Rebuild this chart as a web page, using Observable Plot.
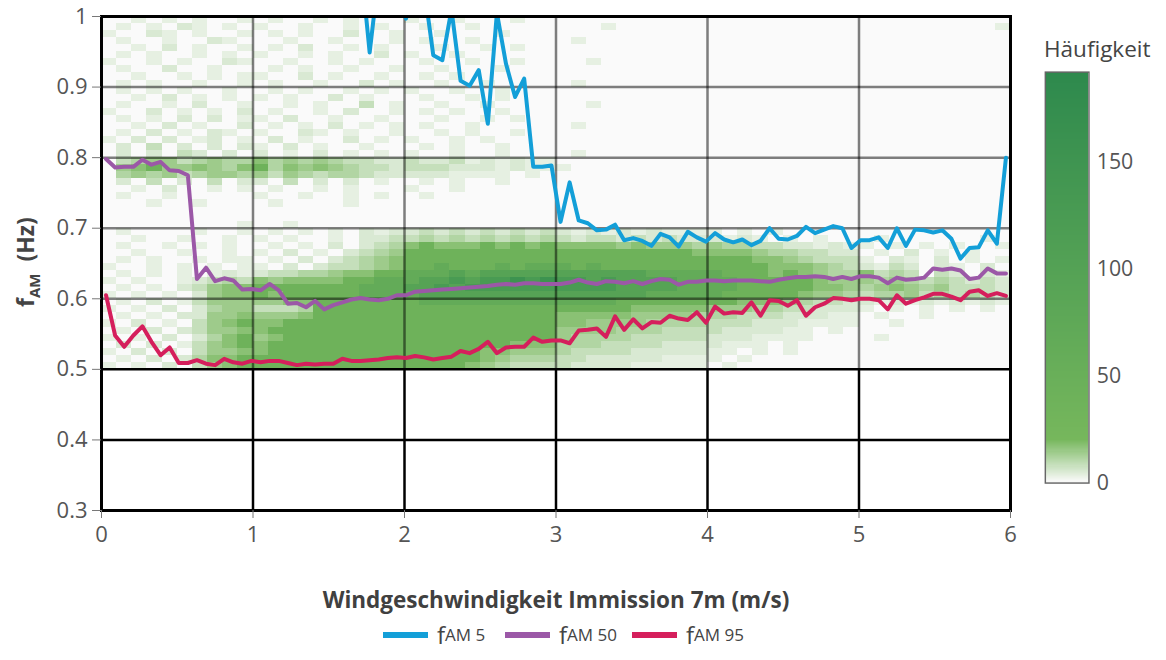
<!DOCTYPE html>
<html><head><meta charset="utf-8">
<script src="https://cdn.jsdelivr.net/npm/d3@7"></script>
<script src="https://cdn.jsdelivr.net/npm/@observablehq/plot@0.6"></script>
<style>
body{margin:0;background:#fff;font-family:"Open Sans",sans-serif;}
#wrap{position:relative;width:1166px;height:660px;overflow:hidden;background:#fff;}
#main{position:absolute;left:0;top:0;}
#cbar{position:absolute;left:1040px;top:60px;}
.ylab{position:absolute;left:26px;top:262px;transform:translate(-50%,-50%) rotate(-90deg);font-weight:700;font-size:23px;color:#444;white-space:nowrap;}
.ylab sub{font-size:15px;vertical-align:-6px;}
.leg sub{font-size:17px;vertical-align:-7px;}
.xlab{position:absolute;left:0;width:1112px;top:584px;text-align:center;font-weight:700;font-size:22.5px;color:#404040;}
.cbtitle{position:absolute;left:1044px;top:33px;font-size:22.5px;color:#444;}
.leg{position:absolute;top:618px;display:flex;align-items:center;font-size:24px;color:#444;white-space:nowrap;}
.leg .sw{width:45px;height:6px;margin-right:9px;}
</style>
</head><body>
<div id="wrap">
  <div id="main"></div>
  <div id="cbar"></div>
  <div class="ylab">f<sub>AM</sub>&nbsp; (Hz)</div>
  <div class="xlab">Windgeschwindigkeit Immission 7m (m/s)</div>
  <div class="cbtitle">Häufigkeit</div>
</div>
<script>
// ---------- data ----------
const xTicks = [0, 1, 2, 3, 4, 5, 6];
const yTicks = [0.3, 0.4, 0.5, 0.6, 0.7, 0.8, 0.9, 1.0];
const colorbarTicks = [0, 50, 100, 150];

// wind speed bins for the percentile lines (bin centres)
const windSpeed = d3.range(100).map(k => +(0.03 + 0.06 * k).toFixed(2));

const fAM5 = [
  null,null,null,null,null,null,null,null,null,null,
  null,null,null,null,null,null,null,null,null,null,
  null,null,null,null,null,null,null,null,1.08,0.949,
  1.06,1.10,1.04,0.997,1.05,1.04,0.945,0.938,1.01,0.909,
  0.902,0.924,0.848,1.005,0.933,0.886,0.912,0.787,0.787,0.789,
  0.709,0.765,0.711,0.707,0.697,0.698,0.705,0.683,0.686,0.682,
  0.675,0.692,0.687,0.674,0.695,0.687,0.681,0.693,0.684,0.680,
  0.684,0.676,0.682,0.700,0.685,0.684,0.689,0.702,0.693,0.698,
  0.703,0.700,0.672,0.683,0.683,0.687,0.672,0.700,0.675,0.698,
  0.697,0.694,0.697,0.685,0.657,0.672,0.673,0.697,0.678,0.800
];
const fAM50 = [
  0.798,0.786,0.787,0.787,0.797,0.790,0.794,0.782,0.781,0.775,
  0.628,0.644,0.625,0.629,0.626,0.613,0.614,0.612,0.621,0.612,
  0.593,0.594,0.588,0.597,0.585,0.591,0.595,0.599,0.601,0.599,
  0.598,0.600,0.605,0.605,0.610,0.611,0.612,0.613,0.614,0.615,
  0.616,0.617,0.618,0.620,0.621,0.620,0.622,0.622,0.621,0.621,
  0.621,0.623,0.627,0.623,0.621,0.625,0.624,0.622,0.625,0.621,
  0.625,0.628,0.627,0.620,0.624,0.624,0.626,0.626,0.625,0.626,
  0.626,0.626,0.625,0.624,0.627,0.629,0.631,0.631,0.632,0.631,
  0.628,0.631,0.628,0.632,0.632,0.630,0.622,0.630,0.627,0.628,
  0.630,0.643,0.641,0.643,0.640,0.628,0.630,0.643,0.636,0.636
];
const fAM95 = [
  0.605,0.548,0.532,0.548,0.561,0.539,0.520,0.531,0.509,0.509,
  0.513,0.508,0.506,0.515,0.510,0.508,0.512,0.510,0.512,0.512,
  0.509,0.506,0.508,0.507,0.508,0.508,0.515,0.512,0.512,0.513,
  0.514,0.516,0.517,0.516,0.519,0.517,0.514,0.516,0.518,0.526,
  0.523,0.529,0.539,0.523,0.531,0.532,0.532,0.545,0.539,0.541,
  0.541,0.537,0.555,0.556,0.558,0.546,0.575,0.556,0.571,0.558,
  0.567,0.566,0.576,0.572,0.570,0.581,0.566,0.589,0.579,0.581,
  0.580,0.595,0.576,0.598,0.597,0.590,0.598,0.576,0.588,0.593,
  0.601,0.600,0.598,0.600,0.600,0.598,0.585,0.605,0.593,0.598,
  0.602,0.607,0.607,0.603,0.598,0.610,0.612,0.604,0.608,0.604
];

// heatmap: 60 wind bins (0.1 m/s) x 50 f_AM bins (0.01 Hz), top row = 0.99–1.00 Hz
const heatXStart = 0, heatXBin = 0.1, heatYTop = 1.0, heatYBin = 0.01;
const levelCodes  = ".123456789abc";
const levelCounts = [0, 3, 5, 8, 11, 14, 17, 40, 65, 95, 125, 155, 180];
const heatRows = [
  "..1.1.1..1 .1..1.1... 1..1...1.. .......... .......... ..........",
  ".1.1.21.1. 1..1..1.1. .1..1..... ...1...... .......... .........1",
  "1..21.1..1 .1.1..2..1 ..1...1... .......... .......... ..........",
  ".1..1..21. ..1..1...1 .1..1..... .1........ .......... ..........",
  "..1.2.1..1 .1.2..1.1. ..1..1.1.. .......... .......... ..........",
  ".1.1..1.1. 1..1.1..2. 1..1...... .......... .......... ..........",
  "1..1.1..21 ..1..1.1.. .1..1..1.. ..1....... .......... ..........",
  ".1..2..1.. .1.1..1..1 ..1...1... .......... .......... ..........",
  "..1..1.1.1 1..2.1..1. .1.1...... .......... .......... ..........",
  ".1.1..1..1 .1..1..2.1 ..1..1.... .1........ .......... ..........",
  ".1.1.1..1. .1.1..1.1. 1..1..1... .......... .......... ..........",
  "..1.2.1.1. 1.1..2.1.. .1..1.1... .......... .......... ..........",
  ".1..1.2..1 ..1.1..3.1 ..1..1.... ..1....... .......... ..........",
  "1..2.1.1.2 .1..1.2..1 .1.1..1... .......... .......... ..........",
  ".1.1.2.2.1 1.2..1..1. ..1..1.1.. .......... .......... ..........",
  "..1.2.1..2 .1.1.2.1.1 .1..1..... .1........ .......... ..........",
  ".1.2.1.21. 1..21.1..1 ..1.1..1.. .......... .......... ..........",
  "1.2.2.12.1 .2.1..2.1. 1..1.1.... .......... .......... ..........",
  ".2.3.2.2.2 1.2.1..1.. .1.1..1... .......... .......... ..........",
  ".2.2.32.2. 2.1.2.1.1. 1..1..1... .1........ .......... ..........",
  ".345534544 6454543322 3223121211 .......... .......... ..........",
  ".567556546 7465654332 3332221211 1......... .......... ..........",
  ".454534554 5354344322 2221111.1. .......... .......... ..........",
  ".2.3.2.3.2 2.3.2.2.1. .1.1..1... .......... .......... ..........",
  "..1.2..1.1 .1..1.1... 1..1...... .......... .......... ..........",
  ".1..1..... 1..1..1.1. .1........ .......... .......... ..........",
  "...1..1... .1....1... .......... .......... .......... ..........",
  ".......... .......... .......... .......... .......... ..........",
  ".......... .......... .......... .......... .......... ..........",
  ".........1 ..1....... .......... .......... .......... ..........",
  ".1....1..1 .1.1.1.212 2323232323 2121212111 1.1.1..... ..........",
  "..1..1..1. 1.1..1.223 3434343434 3233232322 2121.1.1.. .1......1.",
  ".1..1.1.1. .1.1.2.234 6766676767 6666565554 5443322121 1.1.1.1..1",
  "..1..1..1. 1.2.1.2345 7777777777 7777777776 6665443322 .1.2.1.1..",
  ".1.1..1.11 .1.2.23456 7777777777 7777777777 7776654333 1.21.2.1.1",
  "1..1.1.1.1 1.2.233456 7787778788 8787777777 7777666543 2132.21.2.",
  ".1.1.1.121 2334456677 8889899999 9999998888 8777676544 6343.32.21",
  "1.1..12343 6566667788 899a9aabab aa9a999988 8877777655 5454343232",
  ".1.1.23566 7777777888 99a9aaaaaa aaaa999988 8877777665 4565453332",
  "1.1.1.2566 7677777888 8999999999 9999998888 8777776554 3445343432",
  ".1.2.13555 5566777777 7888888888 8888777777 7766654332 2121212121",
  "1.1.2.2455 3334777777 7777777777 7777766666 5554433222 1.1.1.1.1.",
  ".1.1.22556 5556777777 7777777777 6666655554 4433322211 .1..1.....",
  "1.2.1.3567 6677777777 7777777777 6655554444 3332221111 ..1.......",
  ".1.2.23556 6777777777 7777777777 5555444333 3222211.1. ..........",
  "1.1.2.2467 5677777777 7777777777 5444433333 2221111... .1........",
  ".2.2.13567 6777777777 7777777666 4443333222 2111.1.... ..........",
  "1.2.2.3556 6777777777 7777766555 4333322222 11.1.1.... ..........",
  ".1.2.24667 7777777777 7777765444 3322222111 1.1....... ..........",
  "1.1.2.3567 7777777777 7777654333 3222211111 .1........ .........."
];

const seriesNames  = ["AM 5", "AM 50", "AM 95"];
const seriesColors = ["#139fd8", "#9b58a7", "#d51f5c"];

// ---------- build tables ----------
const heatCells = [];
heatRows.forEach((row, r) => {
  const s = row.replace(/ /g, "");
  for (let c = 0; c < s.length; c++) {
    heatCells.push({
      x1: heatXStart + c * heatXBin, x2: heatXStart + (c + 1) * heatXBin,
      y1: heatYTop - (r + 1) * heatYBin, y2: heatYTop - r * heatYBin,
      count: levelCounts[levelCodes.indexOf(s[c])]
    });
  }
});
const series = [fAM5, fAM50, fAM95].map(vals => windSpeed.map((x, i) => ({x, y: vals[i]})));

const colorScale = {type: "linear", domain: [0, 20, 192], range: ["#fafafa", "#76b75c", "#2d894d"]};
const fontStyle = {fontFamily: "Open Sans, sans-serif", fontSize: "22px", color: "#555", background: "transparent"};

const main = Plot.plot({
  width: 1030, height: 560,
  marginLeft: 101, marginRight: 20, marginTop: 16, marginBottom: 50,
  style: fontStyle,
  x: {domain: [0, 6]},
  y: {domain: [0.3, 1.0]},
  color: colorScale,
  marks: [
    Plot.rect(heatCells, {x1: "x1", x2: "x2", y1: "y1", y2: "y2", fill: "count", shapeRendering: "crispEdges"}),
    Plot.ruleX([1, 2, 3, 4, 5], {y1: 0.5, y2: 1.0, stroke: "#000", strokeOpacity: 0.5, strokeWidth: 2.5}),
    Plot.ruleY([0.6, 0.7, 0.8, 0.9], {stroke: "#000", strokeOpacity: 0.5, strokeWidth: 2.5}),
    Plot.ruleX([1, 2, 3, 4, 5], {y1: 0.3, y2: 0.5, stroke: "#000", strokeWidth: 2.5}),
    Plot.ruleY([0.4, 0.5], {stroke: "#000", strokeWidth: 2.5}),
    ...series.map((d, i) => Plot.line(d, {x: "x", y: "y", stroke: seriesColors[i], strokeWidth: 4, clip: true})),
    Plot.frame({stroke: "#000", strokeWidth: 3}),
    Plot.axisX({ticks: xTicks, tickSize: 8, tickPadding: 8, label: null, stroke: "#777", fontSize: 22, tickFormat: d => String(d)}),
    Plot.axisY({ticks: yTicks, tickSize: 9, tickPadding: 5, label: null, stroke: "#777", fontSize: 22,
                tickFormat: d => String(+d.toFixed(1))})
  ]
});
document.getElementById("main").appendChild(main);

const cbar = Plot.plot({
  width: 130, height: 450,
  marginLeft: 5, marginRight: 80, marginTop: 12, marginBottom: 14,
  style: fontStyle,
  x: {domain: [0, 1], axis: null},
  y: {domain: [0, 192]},
  color: colorScale,
  marks: [
    Plot.rect(d3.range(0, 192, 0.5), {x1: 0, x2: 1, y1: d => d, y2: d => Math.min(192, d + 1), fill: d => d, shapeRendering: "crispEdges"}),
    Plot.frame({stroke: "#666", strokeWidth: 1.5}),
    Plot.axisY({anchor: "right", ticks: colorbarTicks, tickSize: 0, tickPadding: 8, label: null, fontSize: 22})
  ]
});
document.getElementById("cbar").appendChild(cbar);

// legend
const legendLeft = [383, 505, 632];
const wrap = document.getElementById("wrap");
seriesNames.forEach((name, i) => {
  const item = document.createElement("div");
  item.className = "leg";
  item.style.left = legendLeft[i] + "px";
  item.innerHTML = `<div class="sw" style="background:${seriesColors[i]}"></div>f<sub>${name}</sub>`;
  wrap.appendChild(item);
});
</script>
</body></html>
